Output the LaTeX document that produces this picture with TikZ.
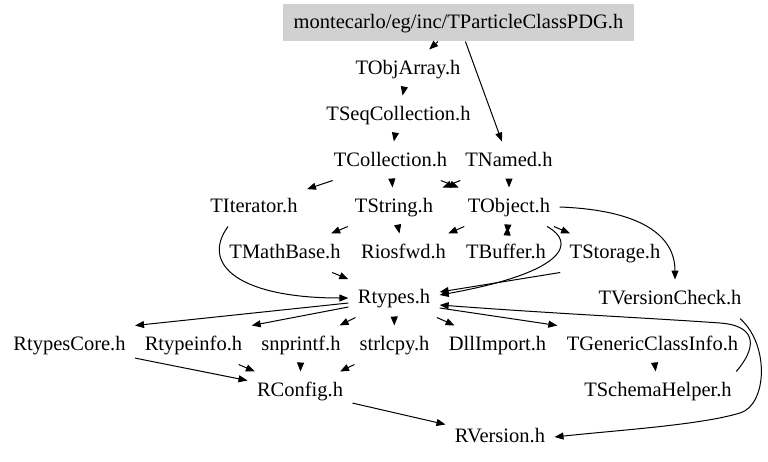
\documentclass[tikz,border=0pt]{standalone}
\usepackage{fontspec}
\setmainfont{Liberation Serif}
\usetikzlibrary{arrows.meta}
\definecolor{rootgray}{gray}{0.82}
\begin{document}
\begin{tikzpicture}[x = 1pt, y = -1pt, line width = 1pt, >={Triangle[length=9pt, width=7pt]},
	file/.style = {inner xsep = 9pt, inner ysep = 0pt, minimum height = 38pt, text height = 15pt, text depth = 4pt, font = \fontsize{20.5}{24}\selectfont}]
	\useasboundingbox (0, 0) rectangle (768, 461);
	\node [file, fill = rootgray, minimum width = 351pt, minimum height = 37pt] (pdg) at (458.5, 22.5) {montecarlo/eg/inc/TParticleClassPDG.h};
	\node [file] (tobjarray) at (408, 69) {TObjArray.h};
	\node [file] (tseqcoll) at (398.5, 115) {TSeqCollection.h};
	\node [file] (tcoll) at (390.5, 161) {TCollection.h};
	\node [file] (tnamed) at (509, 161) {TNamed.h};
	\node [file] (titerator) at (254, 207) {TIterator.h};
	\node [file] (tstring) at (394, 207) {TString.h};
	\node [file] (tobject) at (509, 207) {TObject.h};
	\node [file] (tmathbase) at (285, 253) {TMathBase.h};
	\node [file] (riosfwd) at (403.5, 253) {Riosfwd.h};
	\node [file] (tbuffer) at (506, 253) {TBuffer.h};
	\node [file] (tstorage) at (615, 253) {TStorage.h};
	\node [file] (rtypes) at (394, 298) {Rtypes.h};
	\node [file] (tversion) at (670, 299) {TVersionCheck.h};
	\node [file] (rtypescore) at (69.5, 345) {RtypesCore.h};
	\node [file] (rtypeinfo) at (193.5, 345) {Rtypeinfo.h};
	\node [file] (snprintf) at (301, 345) {snprintf.h};
	\node [file] (strlcpy) at (394.5, 345) {strlcpy.h};
	\node [file] (dllimport) at (497.5, 345) {DllImport.h};
	\node [file] (tgci) at (652.5, 345) {TGenericClassInfo.h};
	\node [file] (rconfig) at (300, 391) {RConfig.h};
	\node [file] (tschema) at (658, 391) {TSchemaHelper.h};
	\node [file] (rversion) at (500, 437) {RVersion.h};

	\draw [->] (pdg) -- (tobjarray);
	\draw [->] (pdg) -- (tnamed);
	\draw [->] (tobjarray) -- (tseqcoll);
	\draw [->] (tseqcoll) -- (tcoll);
	\draw [->] (tcoll) -- (titerator);
	\draw [->] (tcoll) -- (tstring);
	\draw [->] (tcoll) -- (tobject);
	\draw [->] (tnamed) -- (tstring);
	\draw [->] (tnamed) -- (tobject);
	\draw [->] ([xshift=-26pt]titerator.south) .. controls (200, 265) and (240, 298) .. (rtypes.west);
	\draw [->] (tstring) -- (tmathbase);
	\draw [->] (tstring) -- (riosfwd);
	\draw [->] (tobject) -- (riosfwd);
	\draw [->] (tobject) -- (tbuffer);
	\draw [->] (tbuffer) -- (tobject);
	\draw [->] (tobject) -- (tstorage);
	\draw [->] ([xshift=38pt]tobject.south) .. controls (576, 242) and (568, 272) .. ([yshift=3pt]rtypes.east);
	\draw [->] (tobject.east) .. controls (640, 210) and (675, 235) .. ([xshift=5pt]tversion.north);
	\draw [->] (tmathbase) -- (rtypes);
	\draw [->] (tstorage.south west) -- ([yshift=6pt]rtypes.east);
	\draw [->] ([yshift=-5pt]rtypes.west) -- (rtypescore.north east);
	\draw [->] ([yshift=-9pt]rtypes.west) -- (rtypeinfo.north east);
	\draw [->] (rtypes) -- (snprintf);
	\draw [->] (rtypes) -- (strlcpy);
	\draw [->] (rtypes) -- (dllimport);
	\draw [->] ([yshift=-10pt]rtypes.east) -- (tgci.north west);
	\draw [->] (rtypescore) -- (rconfig);
	\draw [->] (rtypeinfo) -- (rconfig);
	\draw [->] (snprintf) -- (rconfig);
	\draw [->] (strlcpy) -- (rconfig);
	\draw [->] (rconfig) -- (rversion);
	\draw [->] (tgci) -- (tschema);
	\draw [->] ([xshift=-5pt]tschema.north east) .. controls (755, 350) and (760, 326) .. (720, 323) .. controls (650, 318) and (560, 314) .. ([yshift=-7pt]rtypes.east);
	\draw [->] ([xshift=70pt]tversion.south) .. controls (770, 345) and (767, 405) .. (740, 413) .. controls (700, 425) and (620, 430) .. (rversion.east);
\end{tikzpicture}
\end{document}
